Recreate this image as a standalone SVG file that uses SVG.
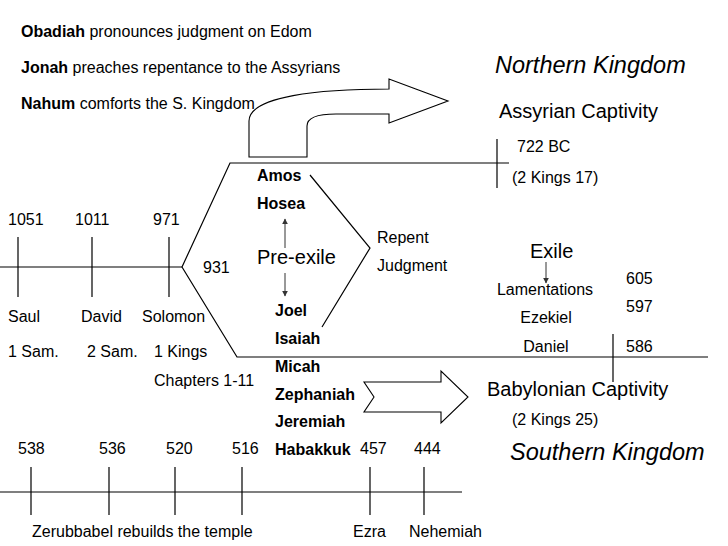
<svg xmlns="http://www.w3.org/2000/svg" width="728" height="546" viewBox="0 0 728 546">
<defs>
<style>
text{font-family:"Liberation Sans",Arial,sans-serif;fill:#000}
.s{font-size:16px}
.b{font-size:16px;font-weight:bold}
.l{font-size:20px}
.k{font-size:23.5px;font-style:italic}
.ln{stroke:#000;stroke-width:1.2;fill:none}
.ar{stroke:#000;stroke-width:1.1;fill:#fff}
.sm{stroke:#333;stroke-width:1;fill:none}
</style>
<marker id="tri" viewBox="0 0 10 10" refX="9" refY="5" markerWidth="6" markerHeight="6" orient="auto" markerUnits="userSpaceOnUse">
<path d="M0,0 L10,5 L0,10 Z" fill="#333"/>
</marker>
</defs>
<rect width="728" height="546" fill="#fff"/>

<g id="connectors">
<!-- main early timeline -->
<path class="ln" d="M0,267 H182"/>
<path class="ln" d="M18,237 V297 M92,237 V297 M169,237 V297"/>
<!-- divided kingdom shape -->
<path class="ln" d="M509,163 H230 L182,267 L237,357 H708"/>
<path class="ln" d="M497,139 V188"/>
<path class="ln" d="M613,334 V382"/>
<!-- prophet bracket -->
<path class="ln" d="M310,175 L370,248 L322,327"/>
<!-- pre-exile arrows -->
<path class="sm" d="M285,248 V219" marker-end="url(#tri)"/>
<path class="sm" d="M285,273 V296" marker-end="url(#tri)"/>
<!-- exile arrow -->
<path class="sm" d="M546,262 V283" marker-end="url(#tri)"/>
<!-- post-exile timeline -->
<path class="ln" d="M0,492 H462"/>
<path class="ln" d="M31,467 V515 M109,467 V515 M175,467 V515 M242,467 V515 M370,467 V515 M424,467 V515"/>
<!-- block arrows -->
<path class="ar" d="M249,157 V121 C249,96 320,89 389,89 V79 L448,101 L389,123 V114 H336 C316,114 307,118 307,126 V157 Z"/>
<path class="ar" d="M364,382 H441 V371 L468,397 L441,423 V412 H364 L374,397 Z"/>
</g>

<g id="minor-prophets">
<text class="s" x="21" y="37"><tspan font-weight="bold">Obadiah</tspan> pronounces judgment on Edom</text>
<text class="s" x="21" y="73"><tspan font-weight="bold">Jonah</tspan> preaches repentance to the Assyrians</text>
<text class="s" x="21" y="109"><tspan font-weight="bold">Nahum</tspan> comforts the S. Kingdom</text>
</g>

<g id="united-kingdom">
<text class="s" x="8" y="225">1051</text>
<text class="s" x="75" y="225">1011</text>
<text class="s" x="153" y="225">971</text>
<text class="s" x="8" y="322">Saul</text>
<text class="s" x="81" y="322">David</text>
<text class="s" x="142" y="322">Solomon</text>
<text class="s" x="8" y="357">1 Sam.</text>
<text class="s" x="87" y="357">2 Sam.</text>
<text class="s" x="154" y="357">1 Kings</text>
<text class="s" x="154" y="386">Chapters 1-11</text>
<text class="s" x="203" y="273">931</text>
</g>

<g id="pre-exile">
<text class="b" x="257" y="181">Amos</text>
<text class="b" x="257" y="209">Hosea</text>
<text class="l" x="257" y="264">Pre-exile</text>
<text class="b" x="275" y="316">Joel</text>
<text class="b" x="275" y="344">Isaiah</text>
<text class="b" x="275" y="372">Micah</text>
<text class="b" x="275" y="400">Zephaniah</text>
<text class="b" x="275" y="427">Jeremiah</text>
<text class="b" x="275" y="455">Habakkuk</text>
<text class="s" x="377" y="243">Repent</text>
<text class="s" x="377" y="271">Judgment</text>
</g>

<g id="northern-kingdom">
<text class="k" x="495" y="73">Northern Kingdom</text>
<text class="l" x="499" y="118">Assyrian Captivity</text>
<text class="s" x="517" y="152">722 BC</text>
<text class="s" x="512" y="183">(2 Kings 17)</text>
</g>

<g id="exile">
<text class="l" x="530" y="258">Exile</text>
<text class="s" x="545" y="295" text-anchor="middle">Lamentations</text>
<text class="s" x="546" y="323" text-anchor="middle">Ezekiel</text>
<text class="s" x="546" y="352" text-anchor="middle">Daniel</text>
<text class="s" x="626" y="284">605</text>
<text class="s" x="626" y="312">597</text>
<text class="s" x="626" y="352">586</text>
</g>

<g id="southern-kingdom">
<text class="l" x="487" y="396">Babylonian Captivity</text>
<text class="s" x="512" y="425">(2 Kings 25)</text>
<text class="k" x="510" y="460">Southern Kingdom</text>
</g>

<g id="post-exile">
<text class="s" x="18" y="454">538</text>
<text class="s" x="99" y="454">536</text>
<text class="s" x="166" y="454">520</text>
<text class="s" x="232" y="454">516</text>
<text class="s" x="360" y="454">457</text>
<text class="s" x="414" y="454">444</text>
<text class="s" x="32" y="537">Zerubbabel rebuilds the temple</text>
<text class="s" x="353" y="537">Ezra</text>
<text class="s" x="409" y="537">Nehemiah</text>
</g>
</svg>
